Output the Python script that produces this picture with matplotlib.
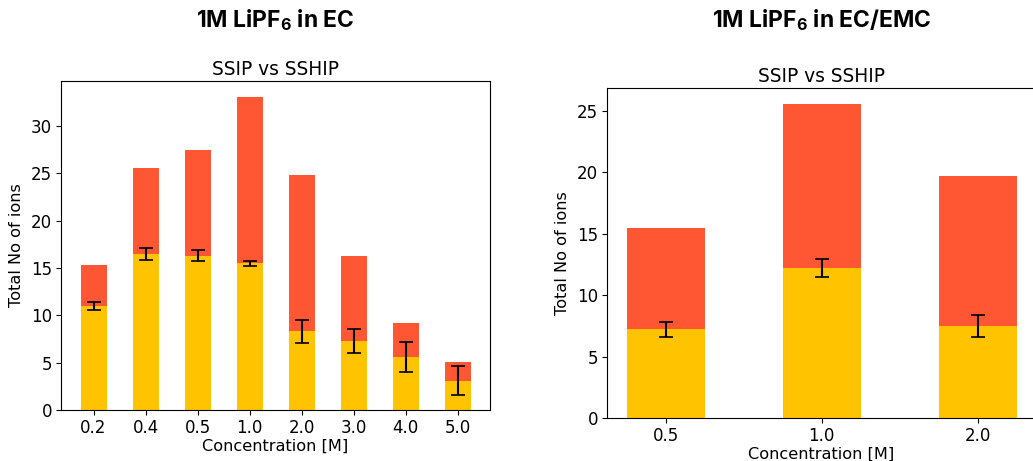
import numpy as np
import matplotlib
matplotlib.use('Agg')
from matplotlib import pyplot as plt

plt.rcParams['mathtext.fontset'] = 'custom'
plt.rcParams['mathtext.bf'] = 'Inter:bold'
plt.rcParams['mathtext.rm'] = 'Inter'

ssip_color = '#FFC300'
sship_color = '#FF5733'

# EC
ec_conc = ['0.2', '0.4', '0.5', '1.0', '2.0', '3.0', '4.0', '5.0']
ec_ssip = [11.0, 16.5, 16.3, 15.5, 8.3, 7.3, 5.6, 3.1]
ec_sship = [4.3, 9.1, 11.2, 17.6, 16.5, 9.0, 3.6, 2.0]
ec_err = [0.4, 0.65, 0.6, 0.28, 1.2, 1.27, 1.55, 1.5]

# EC/EMC
emc_conc = ['0.5', '1.0', '2.0']
emc_ssip = [7.23, 12.23, 7.49]
emc_sship = [8.27, 13.37, 12.21]
emc_err = [0.61, 0.72, 0.91]


def draw_panel(ax, conc, ssip, sship, err):
    x = np.arange(len(conc))
    ax.bar(x, ssip, 0.5, color=ssip_color, label='SSIP')
    ax.bar(x, sship, 0.5, bottom=ssip, color=sship_color, label='SSHIP')
    ax.errorbar(x, ssip, yerr=err, fmt='none', ecolor='black', capsize=5, elinewidth=1.5, capthick=1.2)
    ax.set_xticks(x, labels=conc)
    ax.set_title('SSIP vs SSHIP', fontsize=13.4, pad=4)
    ax.set_xlabel('Concentration [M]', fontsize=11.6, labelpad=1)
    ax.set_ylabel('Total No of ions', fontsize=11.6, labelpad=5)
    ax.tick_params(labelsize=12, pad=3)


fig = plt.figure(figsize=(10.33, 4.61), dpi=100)
ax1 = fig.add_axes([61 / 1033, 1 - 410 / 461, 429 / 1033, 329 / 461])
ax2 = fig.add_axes([607 / 1033, 1 - 418 / 461, 429 / 1033, 330 / 461])
draw_panel(ax1, ec_conc, ec_ssip, ec_sship, ec_err)
draw_panel(ax2, emc_conc, emc_ssip, emc_sship, emc_err)

fig.text(275 / 1033, 1 - 20 / 461, r'1M LiPF$_\mathbf{6}$ in EC', ha='center', va='center',
         fontsize=16.5, fontweight='bold', family='Inter')
fig.text(822 / 1033, 1 - 20 / 461, r'1M LiPF$_\mathbf{6}$ in EC/EMC', ha='center', va='center',
         fontsize=16.5, fontweight='bold', family='Inter')

fig.savefig('out.png', dpi=100)
